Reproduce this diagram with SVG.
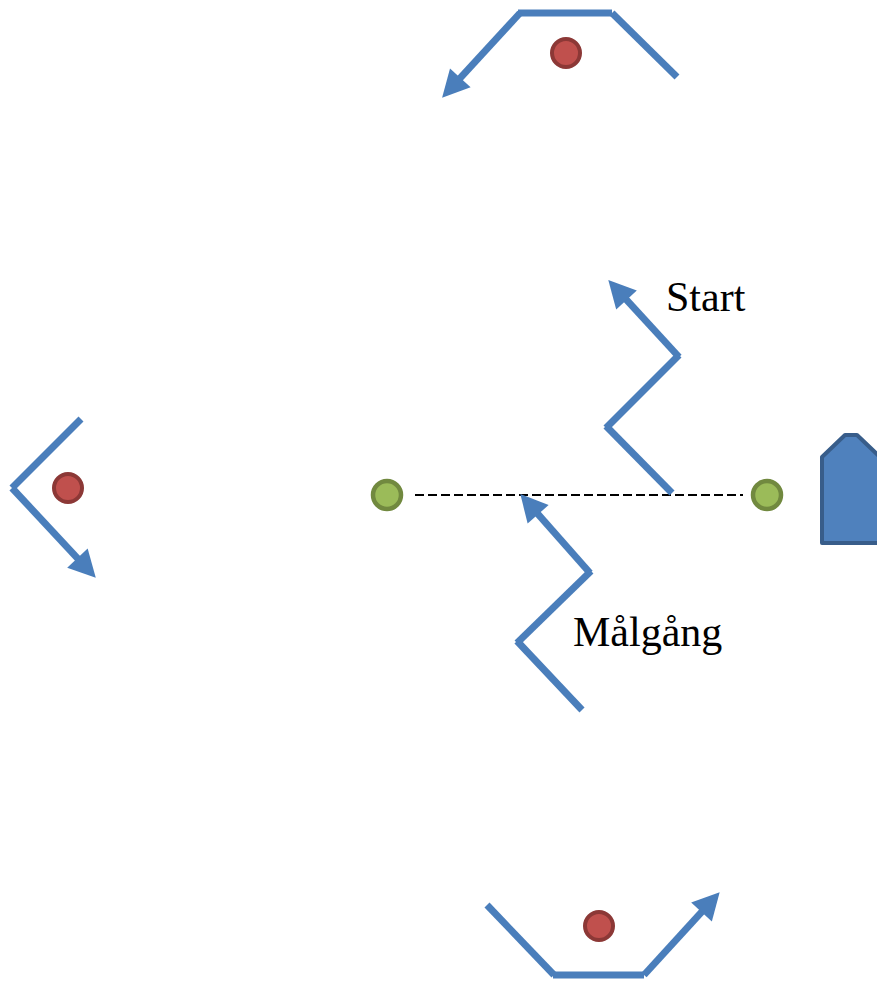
<svg xmlns="http://www.w3.org/2000/svg" width="877" height="981" viewBox="0 0 877 981">
<style>
.path{stroke:#4a7ebb;stroke-width:7;fill:none;stroke-linecap:butt}
.mark{stroke:#8c3836;stroke-width:4;fill:#c0504d}
.buoy{stroke:#71893f;stroke-width:4.5;fill:#9bbb59}
.dash{stroke:#000;stroke-width:2;stroke-dasharray:9 4;fill:none}
.boat{stroke:#385d8a;stroke-width:4;fill:#4f81bd;stroke-linejoin:round}
.lbl{font-family:"Liberation Serif","Times New Roman",serif;font-size:42px;fill:#000}
</style>
<defs>
<marker id="ah" markerUnits="userSpaceOnUse" markerWidth="28" markerHeight="28" viewBox="0 -13 25 26" refX="11" refY="0" orient="auto" overflow="visible">
<path d="M0,-13 L25,0 L0,13 z" fill="#4a7ebb"/>
</marker>
</defs>
<g id="connectors">
<line class="dash" x1="415" y1="495" x2="743" y2="495"/>
<g id="top-rounding">
<line class="path" x1="677" y1="77" x2="612" y2="13"/>
<line class="path" x1="612" y1="13" x2="518" y2="13"/>
<line class="path" x1="520" y1="13" x2="452.3" y2="86.6" marker-end="url(#ah)"/>
</g>
<g id="left-rounding">
<line class="path" x1="81" y1="419" x2="12" y2="488"/>
<line class="path" x1="12" y1="488" x2="85.5" y2="566.8" marker-end="url(#ah)"/>
</g>
<g id="bottom-rounding">
<line class="path" x1="487" y1="905" x2="554" y2="975"/>
<line class="path" x1="553" y1="975" x2="644" y2="975"/>
<line class="path" x1="644" y1="975" x2="709.5" y2="903.3" marker-end="url(#ah)"/>
</g>
<g id="start-path">
<line class="path" x1="672" y1="493" x2="606" y2="426"/>
<line class="path" x1="606" y1="428" x2="679" y2="355"/>
<line class="path" x1="679" y1="357" x2="618.5" y2="291.2" marker-end="url(#ah)"/>
</g>
<g id="finish-path">
<line class="path" x1="582" y1="710" x2="517" y2="641"/>
<line class="path" x1="517" y1="643" x2="591" y2="571"/>
<line class="path" x1="590" y1="573" x2="530.3" y2="505.4" marker-end="url(#ah)"/>
</g>
</g>
<g id="mark-top"><circle class="mark" cx="566" cy="53" r="14"/></g>
<g id="mark-left"><circle class="mark" cx="68" cy="488" r="14"/></g>
<g id="mark-bottom"><circle class="mark" cx="599" cy="926" r="14"/></g>
<g id="buoy-left"><circle class="buoy" cx="387" cy="495" r="14"/></g>
<g id="buoy-right"><circle class="buoy" cx="767" cy="495" r="14"/></g>
<g id="boat"><polygon class="boat" points="822,457 845,435 857,435 880,457 880,543 822,543"/></g>
<g id="label-start"><text class="lbl" x="666" y="311">Start</text></g>
<g id="label-finish"><text class="lbl" x="573" y="646">Målgång</text></g>
</svg>
